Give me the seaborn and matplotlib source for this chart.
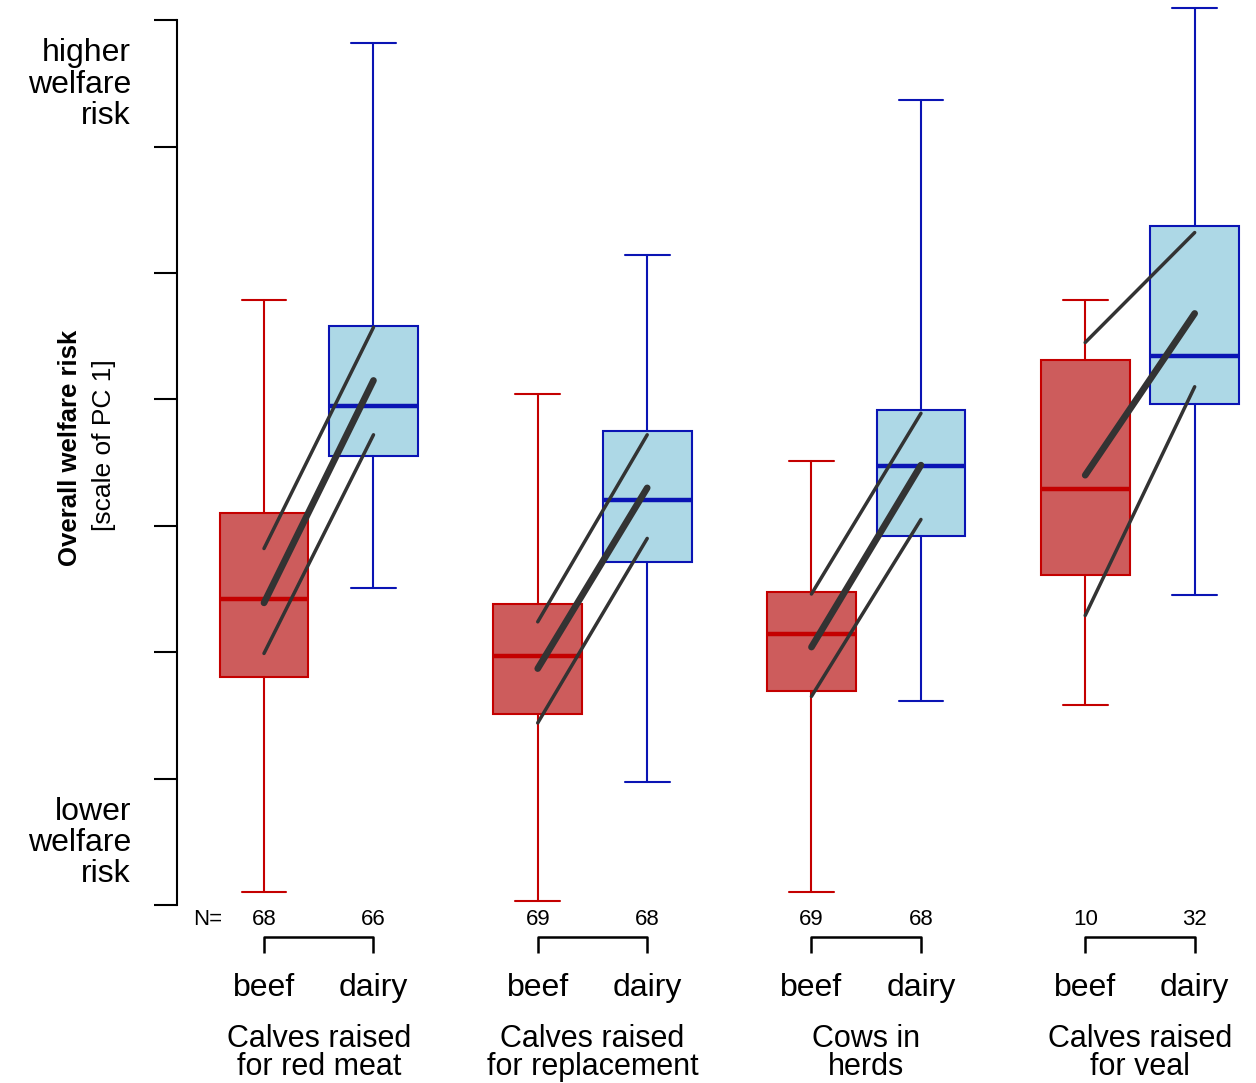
import numpy as np
import pandas as pd
import matplotlib
matplotlib.use("Agg")
import matplotlib.pyplot as plt
import seaborn as sns

# ==================== Data ====================
groups = ["Calves raised\nfor red meat", "Calves raised\nfor replacement",
          "Cows in\nherds", "Calves raised\nfor veal"]
types = ["beef", "dairy"]
n_beef = [68, 69, 69, 10]
n_dairy = [66, 68, 68, 32]

# box statistics on the PC1 scale
beef_whislo = [0.10, 0.03, 0.10, 1.58]
beef_q1 = [1.80, 1.51, 1.69, 2.61]
beef_med = [2.42, 1.97, 2.14, 3.29]
beef_q3 = [3.10, 2.38, 2.48, 4.31]
beef_whishi = [4.79, 4.04, 3.51, 4.79]

dairy_whislo = [2.51, 0.97, 1.61, 2.45]
dairy_q1 = [3.55, 2.71, 2.92, 3.96]
dairy_med = [3.95, 3.20, 3.47, 4.34]
dairy_q3 = [4.58, 3.75, 3.92, 5.37]
dairy_whishi = [6.82, 5.14, 6.37, 7.10]

# model estimate (thick) and interval (thin) lines, beef end -> dairy end
est_beef = [2.39, 1.87, 2.04, 3.40]
est_dairy = [4.15, 3.30, 3.48, 4.68]
upper_beef = [2.82, 2.24, 2.46, 4.45]
upper_dairy = [4.57, 3.72, 3.89, 5.32]
lower_beef = [1.99, 1.44, 1.65, 2.29]
lower_dairy = [3.72, 2.90, 3.05, 4.10]

# ==================== Style ====================
sns.set_style("white")
plt.rcParams["font.family"] = ["Liberation Sans", "DejaVu Sans"]
plt.rcParams["text.color"] = "black"

BEEF_FACE, BEEF_EDGE = "#CD5C5C", "#C40000"
DAIRY_FACE, DAIRY_EDGE = "#ADD8E6", "#0A14B4"
LINE_COL = "#333333"

pos_beef = np.array([1.0, 3.5, 6.0, 8.5])
pos_dairy = pos_beef + 1.0


def make_stats(lo, q1, med, q3, hi):
    return [dict(whislo=a, q1=b, med=c, q3=d, whishi=e, fliers=[])
            for a, b, c, d, e in zip(lo, q1, med, q3, hi)]


fig = plt.figure(figsize=(12.56, 10.83), dpi=100)
ax = fig.add_axes([177 / 1256, 173 / 1083, 1079 / 1256, 910 / 1083])

for stats, pos, face, edge in [
    (make_stats(beef_whislo, beef_q1, beef_med, beef_q3, beef_whishi), pos_beef, BEEF_FACE, BEEF_EDGE),
    (make_stats(dairy_whislo, dairy_q1, dairy_med, dairy_q3, dairy_whishi), pos_dairy, DAIRY_FACE, DAIRY_EDGE),
]:
    ax.bxp(stats, positions=pos, widths=0.81, capwidths=0.41, patch_artist=True,
           showfliers=False, manage_ticks=False,
           boxprops=dict(facecolor=face, edgecolor=edge, linewidth=1.5),
           whiskerprops=dict(color=edge, linewidth=1.5),
           capprops=dict(color=edge, linewidth=1.5),
           medianprops=dict(color=edge, linewidth=3.2))

# connecting lines
rows = []
for i in range(len(groups)):
    for kind, b, d in [("est", est_beef[i], est_dairy[i]),
                       ("upper", upper_beef[i], upper_dairy[i]),
                       ("lower", lower_beef[i], lower_dairy[i])]:
        w = "thick" if kind == "est" else "thin"
        rows.append(dict(line=f"{i}-{kind}", x=pos_beef[i], y=b, weight=w))
        rows.append(dict(line=f"{i}-{kind}", x=pos_dairy[i], y=d, weight=w))
lines = pd.DataFrame(rows)

sns.lineplot(data=lines, x="x", y="y", units="line", estimator=None,
             size="weight", sizes={"thick": 4.8, "thin": 2.5},
             color=LINE_COL, legend=False, sort=False, ax=ax,
             solid_capstyle="round", zorder=4)

# axes
ax.set_xlim(0.2055, 10.06)
ax.set_ylim(-0.04, 7.16)
ax.set_yticks(range(8))
ax.set_yticklabels([])
ax.set_xticks([])
ax.set_xlabel("")
ax.set_ylabel("")
ax.tick_params(axis="y", direction="out", length=16.5, width=1.5, color="black", left=True)
for s in ["top", "right", "bottom"]:
    ax.spines[s].set_visible(False)
ax.spines["left"].set_bounds(0, 7)
ax.spines["left"].set_linewidth(1.5)
ax.spines["left"].set_color("black")

# side annotations
ax.text(-0.215, 6.49, "higher\nwelfare\nrisk", ha="right", va="center",
        fontsize=23, linespacing=1.06, multialignment="right")
ax.text(-0.215, 0.49, "lower\nwelfare\nrisk", ha="right", va="center",
        fontsize=23, linespacing=1.06, multialignment="right")
ax.text(-0.77, 3.62, "Overall welfare risk", rotation=90, ha="center", va="center",
        fontsize=18.5, fontweight="bold")
ax.text(-0.46, 3.64, "[scale of PC 1]", rotation=90, ha="center", va="center",
        fontsize=19)

# bottom annotations
ax.text(0.49, -0.158, "N=", ha="center", va="baseline", fontsize=16)
for i, g in enumerate(groups):
    xb, xd = pos_beef[i], pos_dairy[i]
    ax.text(xb, -0.158, str(n_beef[i]), ha="center", va="baseline", fontsize=16)
    ax.text(xd, -0.158, str(n_dairy[i]), ha="center", va="baseline", fontsize=16)
    ax.plot([xb, xb, xd, xd], [-0.38, -0.25, -0.25, -0.38], color="black",
            linewidth=1.8, clip_on=False, solid_capstyle="butt")
    ax.text(xb, -0.72, types[0], ha="center", va="baseline", fontsize=23)
    ax.text(xd, -0.72, types[1], ha="center", va="baseline", fontsize=23)
    xc = (xb + xd) / 2
    ax.text(xc, -1.17, g, ha="center", va="center", fontsize=22,
            linespacing=0.9, multialignment="center")

fig.savefig("out.png", dpi=100)
